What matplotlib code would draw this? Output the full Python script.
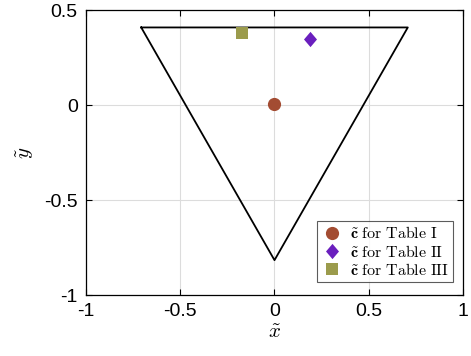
import matplotlib
matplotlib.use("Agg")
import matplotlib.pyplot as plt
import numpy as np

plt.rcParams['font.family'] = ['Liberation Sans', 'DejaVu Sans']
plt.rcParams['mathtext.fontset'] = 'cm'

# Triangle vertices
tri_x = [-0.7071, 0.7071, 0.0, -0.7071]
tri_y = [0.4082, 0.4082, -0.8165, 0.4082]

# Points
labels = [r'$\tilde{\mathbf{c}}\ \mathrm{for\ Table\ I}$',
          r'$\tilde{\mathbf{c}}\ \mathrm{for\ Table\ II}$',
          r'$\tilde{\mathbf{c}}\ \mathrm{for\ Table\ III}$']
pts_x = [0.0, 0.19, -0.17]
pts_y = [0.005, 0.345, 0.378]
diamond = [(0, 1), (0.85, 0), (0, -1), (-0.85, 0), (0, 1)]
markers = ['o', diamond, 's']
colors = ['#A34C32', '#6A1FBE', '#9B9B4C']
msizes = [9.5, 11, 8]

xticks = [-1, -0.5, 0, 0.5, 1]
yticks = [-1, -0.5, 0, 0.5]
xticklabels = ['-1', '-0.5', '0', '0.5', '1']
yticklabels = ['-1', '-0.5', '0', '0.5']

fig = plt.figure(figsize=(4.71, 3.56), dpi=100)
ax = fig.add_axes([0.1826, 0.1713, 0.8004, 0.8006])

ax.plot(tri_x, tri_y, color='black', lw=1.3, zorder=3)
for x, y, m, c, s, l in zip(pts_x, pts_y, markers, colors, msizes, labels):
    ax.plot([x], [y], linestyle='none', marker=m, color=c, markersize=s,
            markeredgewidth=0, label=l, zorder=4)

ax.set_xlim(-1, 1)
ax.set_ylim(-1, 0.5)
ax.set_xticks(xticks)
ax.set_xticklabels(xticklabels)
ax.set_yticks(yticks)
ax.set_yticklabels(yticklabels)
ax.grid(True, color='#DCDCDC', lw=0.8, zorder=0)
ax.set_axisbelow(True)
ax.tick_params(direction='in', length=4, width=0.8, labelsize=14,
               top=True, right=True, pad=6)
for sp in ax.spines.values():
    sp.set_linewidth(0.9)

ax.set_xlabel(r'$\tilde{x}$', fontsize=15, labelpad=2)
ax.set_ylabel(r'$\tilde{y}$', fontsize=15, labelpad=6)

leg = ax.legend(loc='lower right', bbox_to_anchor=(0.974, 0.046),
                fontsize=11.5, frameon=True, fancybox=False,
                edgecolor='#333333', handletextpad=0.5, borderpad=0.25,
                labelspacing=0.15, handlelength=1.3, borderaxespad=0.0)
leg.get_frame().set_linewidth(0.8)

fig.savefig('out.png', dpi=100)
